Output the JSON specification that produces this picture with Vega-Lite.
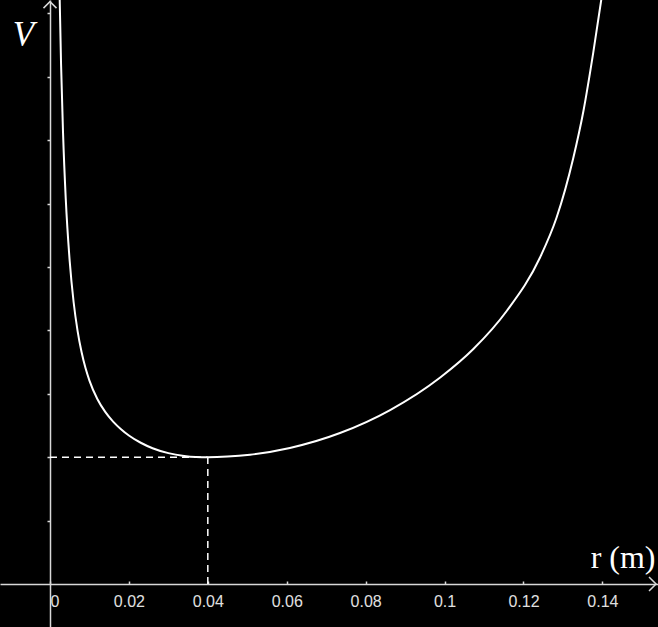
{
  "$schema": "https://vega.github.io/schema/vega-lite/v6.json",
  "width": 658,
  "height": 627,
  "padding": 0,
  "autosize": {"type": "none"},
  "background": "#000000",
  "config": {"view": {"stroke": null}},
  "datasets": {
    "curve": [
      {"r": 0.0024, "V": 9.4},
      {"r": 0.0028, "V": 8.209},
      {"r": 0.0033, "V": 7.127},
      {"r": 0.004, "V": 6.07},
      {"r": 0.005, "V": 5.088},
      {"r": 0.006, "V": 4.44},
      {"r": 0.007, "V": 3.989},
      {"r": 0.008, "V": 3.658},
      {"r": 0.009, "V": 3.406},
      {"r": 0.01, "V": 3.209},
      {"r": 0.012, "V": 2.918},
      {"r": 0.014, "V": 2.715},
      {"r": 0.016, "V": 2.562},
      {"r": 0.018, "V": 2.442},
      {"r": 0.02, "V": 2.343},
      {"r": 0.023, "V": 2.228},
      {"r": 0.026, "V": 2.142},
      {"r": 0.03, "V": 2.064},
      {"r": 0.034, "V": 2.02},
      {"r": 0.037, "V": 2.004},
      {"r": 0.04, "V": 2.0},
      {"r": 0.045, "V": 2.01},
      {"r": 0.0507, "V": 2.04},
      {"r": 0.0608, "V": 2.146},
      {"r": 0.0735, "V": 2.381},
      {"r": 0.0862, "V": 2.743},
      {"r": 0.0989, "V": 3.257},
      {"r": 0.1073, "V": 3.706},
      {"r": 0.1158, "V": 4.31},
      {"r": 0.1242, "V": 5.15},
      {"r": 0.1284, "V": 5.78},
      {"r": 0.1326, "V": 6.712},
      {"r": 0.1352, "V": 7.461},
      {"r": 0.1377, "V": 8.386},
      {"r": 0.1398, "V": 9.247},
      {"r": 0.1404, "V": 9.505}
    ],
    "guides": [
      {"r1": 0, "r2": 0.04, "v1": 2, "v2": 2},
      {"r1": 0.04, "r2": 0.04, "v1": 0, "v2": 2}
    ],
    "arrowX": [{"r": 0.1536, "V": 0}],
    "arrowY": [{"r": 0, "V": 9.185}]
  },
  "layer": [
    {
      "data": {"name": "guides"},
      "mark": {"type": "rule", "color": "#ffffff", "strokeWidth": 1.5, "strokeDash": [7, 5]},
      "encoding": {
        "x": {"field": "r1", "type": "quantitative", "scale": {"domain": [-0.01267, 0.1541], "nice": false, "zero": false},
          "axis": {
            "orient": "bottom",
            "offset": -43,
            "values": [0, 0.02, 0.04, 0.06, 0.08, 0.1, 0.12, 0.14],
            "format": "~g",
            "labelExpr": "datum.value == 0 ? '\u00a00' : datum.label",
            "labelAlign": {"expr": "datum.value == 0 ? 'left' : 'center'"},
            "grid": false,
            "domainColor": "#d8d8d8",
            "domainWidth": 1.5,
            "tickColor": "#d8d8d8",
            "tickWidth": 1.5,
            "tickSize": -3,
            "labelPadding": 12,
            "labelColor": "#e0e0e0",
            "labelFont": "Liberation Sans",
            "labelFontSize": 16,
            "labelFlush": false,
            "labelOverlap": false,
            "title": "r (m)",
            "titleFont": "Liberation Serif",
            "titleFontSize": 32,
            "titleFontWeight": "normal",
            "titleColor": "#ffffff",
            "titleAlign": "right",
            "titleBaseline": "alphabetic",
            "titleAnchor": null,
            "titleX": 655,
            "titleY": -17
          }
        },
        "x2": {"field": "r2"},
        "y": {"field": "v1", "type": "quantitative", "scale": {"domain": [-0.678, 9.211], "nice": false, "zero": false},
          "axis": {
            "orient": "left",
            "offset": -50,
            "values": [1, 2, 3, 4, 5, 6, 7, 8, 9],
            "labels": false,
            "grid": false,
            "domainColor": "#d8d8d8",
            "domainWidth": 1.5,
            "tickColor": "#d8d8d8",
            "tickWidth": 1.5,
            "tickSize": 3,
            "title": "V",
            "titleFont": "Liberation Serif",
            "titleFontStyle": "italic",
            "titleFontWeight": "normal",
            "titleFontSize": 35,
            "titleColor": "#ffffff",
            "titleAngle": 0,
            "titleAlign": "center",
            "titleBaseline": "alphabetic",
            "titleAnchor": null,
            "titleX": -27,
            "titleY": 45
          }
        },
        "y2": {"field": "v2"}
      }
    },
    {
      "data": {"name": "curve"},
      "mark": {"type": "line", "color": "#ffffff", "strokeWidth": 2, "interpolate": "monotone", "clip": true},
      "encoding": {
        "x": {"field": "r", "type": "quantitative"},
        "y": {"field": "V", "type": "quantitative"}
      }
    },
    {
      "data": {"name": "arrowX"},
      "mark": {"type": "point", "shape": "M-1,-1L0,0L-1,1", "filled": false, "stroke": "#d8d8d8", "strokeWidth": 1.5, "size": 196, "opacity": 1},
      "encoding": {
        "x": {"field": "r", "type": "quantitative"},
        "y": {"field": "V", "type": "quantitative"}
      }
    },
    {
      "data": {"name": "arrowY"},
      "mark": {"type": "point", "shape": "M-1,1L0,0L1,1", "filled": false, "stroke": "#d8d8d8", "strokeWidth": 1.5, "size": 169, "opacity": 1},
      "encoding": {
        "x": {"field": "r", "type": "quantitative"},
        "y": {"field": "V", "type": "quantitative"}
      }
    }
  ]
}
